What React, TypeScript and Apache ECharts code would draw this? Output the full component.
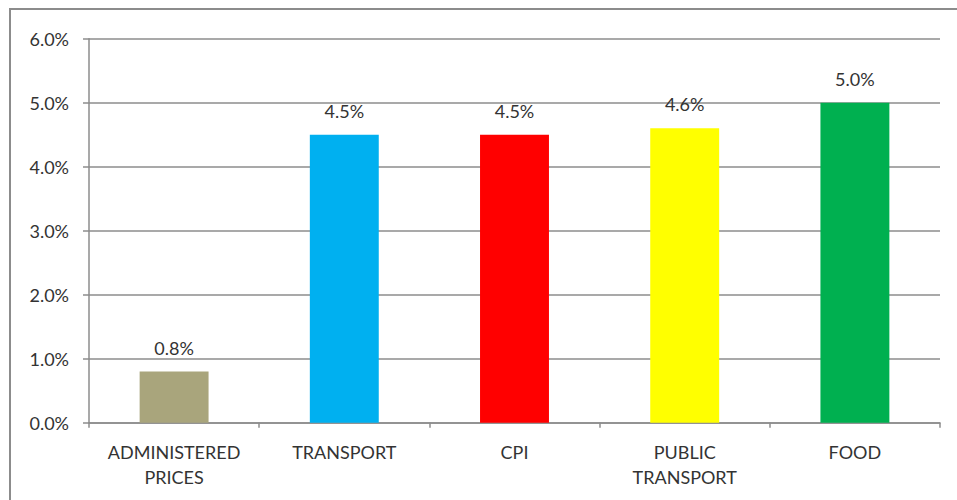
import React, { useEffect, useRef } from "react";
import * as echarts from "echarts";

const categories = ["ADMINISTERED\nPRICES", "TRANSPORT", "CPI", "PUBLIC\nTRANSPORT", "FOOD"];
const values = [0.8, 4.5, 4.5, 4.6, 5.0];
const barColors = ["#A9A57C", "#00B0F0", "#FF0000", "#FFFF00", "#00B050"];
const yTicks = { min: 0, max: 6, interval: 1 };

const FONT = "Lato, 'Open Sans', sans-serif";
const GRAY = "#8C8C8C";
const TEXT = "#333";

export default function App() {
  const ref = useRef<HTMLDivElement>(null);
  useEffect(() => {
    if (!ref.current) return;
    const chart = echarts.init(ref.current, null, { renderer: "svg" });
    chart.setOption({
      animation: false,
      backgroundColor: "#fff",
      graphic: [
        {
          type: "rect",
          shape: { x: 10, y: 9, width: 960, height: 510 },
          style: { fill: "none", stroke: GRAY, lineWidth: 2 },
          silent: true,
        },
      ],
      grid: { left: 89, right: 17, top: 38.7, bottom: 77.3, containLabel: false },
      xAxis: {
        type: "category",
        data: categories,
        axisLine: { lineStyle: { color: GRAY, width: 1.5 } },
        axisTick: { show: true, length: 5, alignWithLabel: false, lineStyle: { color: GRAY, width: 1.5 } },
        axisLabel: {
          color: TEXT,
          fontFamily: FONT,
          fontSize: 18,
          lineHeight: 25,
          margin: 17,
          interval: 0,
        },
      },
      yAxis: {
        type: "value",
        min: yTicks.min,
        max: yTicks.max,
        interval: yTicks.interval,
        axisLine: { show: true, lineStyle: { color: GRAY, width: 1.5 } },
        axisTick: { show: true, length: 6, lineStyle: { color: GRAY, width: 1.5 } },
        splitLine: { show: true, lineStyle: { color: GRAY, width: 1.5 } },
        axisLabel: {
          color: TEXT,
          fontFamily: FONT,
          fontSize: 18,
          margin: 20,
          formatter: (v: number) => v.toFixed(1) + "%",
        },
      },
      series: [
        {
          type: "bar",
          data: values.map((v, i) => ({ value: v, itemStyle: { color: barColors[i] } })),
          barWidth: "40.5%",
          label: {
            show: true,
            position: "top",
            distance: 15,
            color: TEXT,
            fontFamily: FONT,
            fontSize: 18,
            formatter: (p: any) => Number(p.value).toFixed(1) + "%",
          },
        },
      ],
    });
    return () => chart.dispose();
  }, []);
  return (
    <div
      ref={ref}
      style={{ position: "fixed", left: 0, top: 0, width: 957, height: 500, background: "#fff" }}
    />
  );
}
